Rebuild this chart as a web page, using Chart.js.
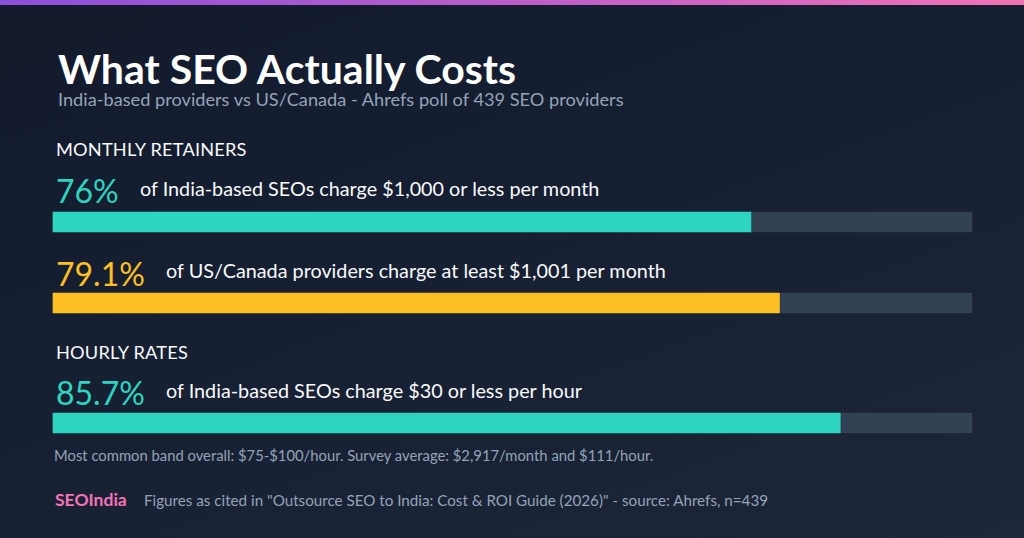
<!DOCTYPE html>
<html>
<head>
<meta charset="utf-8">
<script src="https://cdn.jsdelivr.net/npm/chart.js@4"></script>
<style>
  html, body { margin: 0; padding: 0; }
  body {
    width: 1024px; height: 538px; overflow: hidden; position: relative;
    background: linear-gradient(160deg, #121a2c 0%, #182134 55%, #1d2739 100%);
    font-family: "Lato", "Noto Sans", sans-serif; color: #f1f5f9;
  }
  .topbar { position: absolute; left: 0; top: 0; width: 1024px; height: 5px;
    background: linear-gradient(90deg, #8b4fdc 0%, #c05fc8 55%, #f472b6 100%); }
  .t { position: absolute; white-space: nowrap; line-height: 1; }
  .title { left: 58px; top: 48px; font-size: 41px; font-weight: 700; color: #ffffff; }
  .sub { left: 58px; top: 90px; font-size: 18.2px; color: #94a3b8; }
  .sec { left: 56px; font-size: 18.2px; color: #f8fafc; letter-spacing: 0.2px; }
  .pct { left: 56px; font-size: 32px; }
  .desc { font-size: 19.8px; color: #f8fafc; }
  .note { left: 54px; top: 448px; font-size: 14.8px; color: #94a3b8; }
  .brand { left: 55px; top: 491px; font-size: 17.5px; font-weight: 700; color: #f472b6; }
  .src { left: 144px; top: 493px; font-size: 15.2px; color: #94a3b8; }
  .bar { position: absolute; left: 52px; width: 921px; height: 22px; }
</style>
</head>
<body>
<div class="topbar"></div>
<div class="t title" id="title"></div>
<div class="t sub" id="sub"></div>

<div class="t sec" style="top:140px" id="sec0"></div>
<div class="t pct" style="top:175px" id="pct0"></div>
<div class="t desc" style="left:140px; top:179px" id="desc0"></div>
<div class="bar" style="top:211px"><canvas id="c0"></canvas></div>

<div class="t pct" style="top:258px" id="pct1"></div>
<div class="t desc" style="left:166px; top:261px" id="desc1"></div>
<div class="bar" style="top:292px"><canvas id="c1"></canvas></div>

<div class="t sec" style="top:343px" id="sec1"></div>
<div class="t pct" style="top:377px" id="pct2"></div>
<div class="t desc" style="left:166px; top:381px" id="desc2"></div>
<div class="bar" style="top:412px"><canvas id="c2"></canvas></div>

<div class="t note" id="note"></div>
<div class="t brand" id="brand"></div>
<div class="t src" id="src"></div>

<script>
// ---- data ----
const titleText = "What SEO Actually Costs";
const subtitleText = "India-based providers vs US/Canada - Ahrefs poll of 439 SEO providers";
const sections = ["MONTHLY RETAINERS", "HOURLY RATES"];
const categories = [
  "of India-based SEOs charge $1,000 or less per month",
  "of US/Canada providers charge at least $1,001 per month",
  "of India-based SEOs charge $30 or less per hour"
];
const values = [76, 79.1, 85.7];
const pctLabels = ["76%", "79.1%", "85.7%"];
const barColors = ["#2dd4bf", "#fbbf24", "#2dd4bf"];
const noteText = "Most common band overall: $75-$100/hour. Survey average: $2,917/month and $111/hour.";
const brandText = "SEOIndia";
const sourceText = "Figures as cited in \"Outsource SEO to India: Cost & ROI Guide (2026)\" - source: Ahrefs, n=439";
const scaleMax = 100;

// ---- text ----
document.getElementById('title').textContent = titleText;
document.getElementById('sub').textContent = subtitleText;
document.getElementById('sec0').textContent = sections[0];
document.getElementById('sec1').textContent = sections[1];
document.getElementById('note').textContent = noteText;
document.getElementById('brand').textContent = brandText;
document.getElementById('src').textContent = sourceText;

categories.forEach((cat, i) => {
  const p = document.getElementById('pct' + i);
  p.textContent = pctLabels[i];
  p.style.color = barColors[i];
  document.getElementById('desc' + i).textContent = cat;

  new Chart(document.getElementById('c' + i), {
    type: 'bar',
    data: {
      labels: [cat],
      datasets: [
        { data: [values[i]], backgroundColor: barColors[i], borderColor: 'rgba(15,23,42,0.25)',
          borderWidth: 1, borderSkipped: false, order: 0 },
        { data: [scaleMax], backgroundColor: '#334155', borderColor: 'rgba(15,23,42,0.2)',
          borderWidth: 1, borderSkipped: false, order: 1 }
      ]
    },
    options: {
      indexAxis: 'y',
      responsive: true, maintainAspectRatio: false, animation: false,
      layout: { padding: 0 },
      datasets: { bar: { grouped: false, barPercentage: 1, categoryPercentage: 1 } },
      scales: {
        x: { display: false, min: 0, max: scaleMax },
        y: { display: false }
      },
      plugins: { legend: { display: false }, tooltip: { enabled: false } }
    }
  });
});
</script>
</body>
</html>
